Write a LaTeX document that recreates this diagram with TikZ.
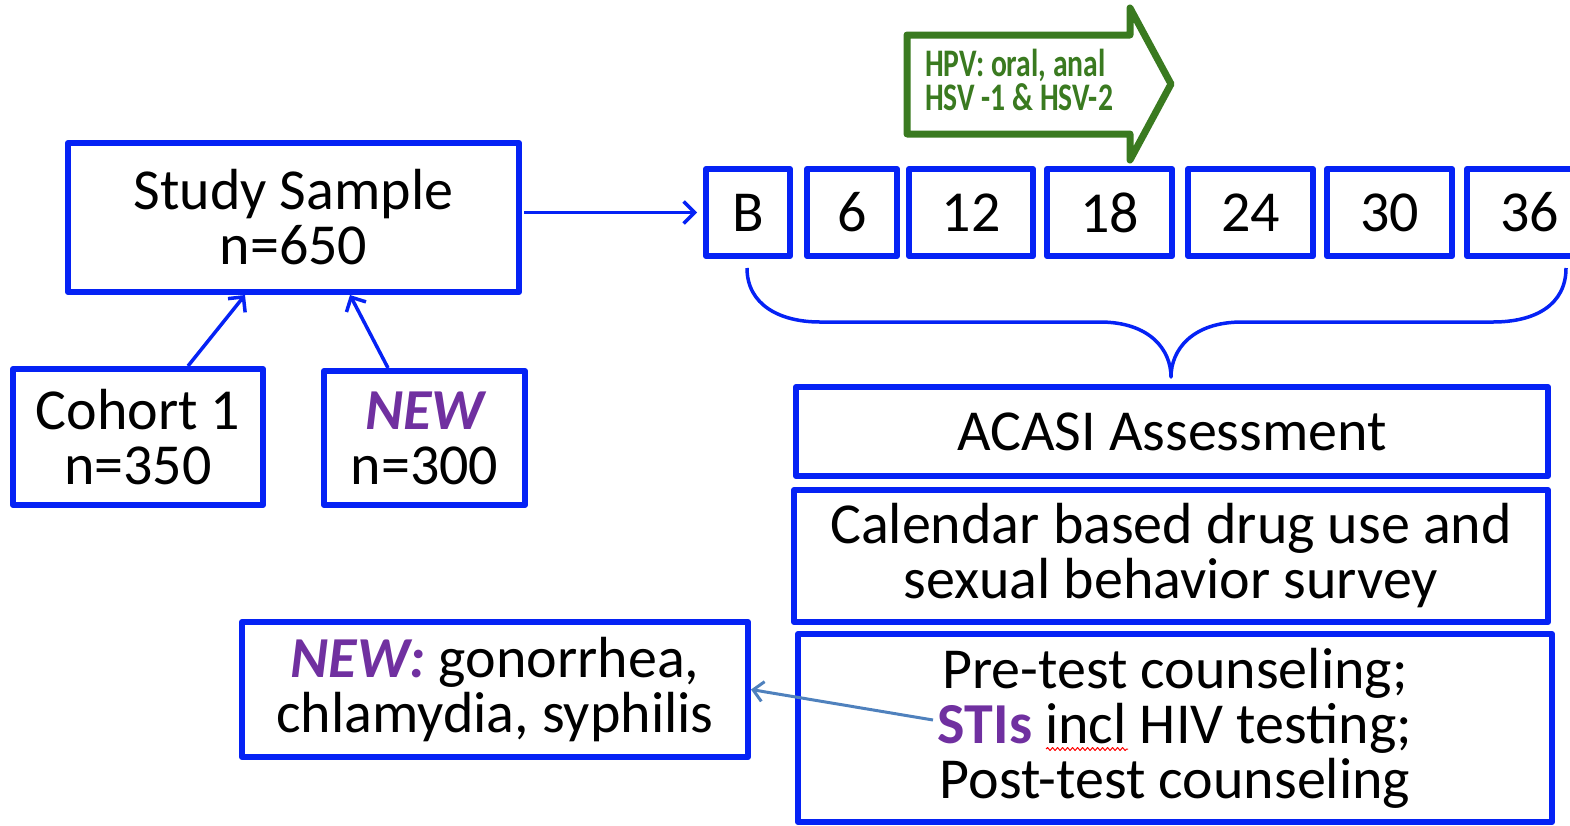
\documentclass[tikz,border=0pt]{standalone}
\usepackage{fontspec}
\setmainfont{Carlito}
\newfontfamily\hpvfont[FakeStretch=0.76]{Carlito}
\usetikzlibrary{arrows.meta, decorations.pathmorphing}
\definecolor{boxblue}{RGB}{5,34,245}
\definecolor{newpurple}{RGB}{112,48,160}
\definecolor{hpvgreen}{RGB}{58,122,32}
\definecolor{linkgray}{RGB}{79,129,189}
\newcommand{\boxfont}{\fontsize{58}{55}\selectfont}
\newcommand{\newtag}[1]{\textcolor{newpurple}{\bfseries\itshape #1}}

\begin{document}
\begin{tikzpicture}[x=1pt, y=-1pt, line join=round,
    box/.style={draw=boxblue, line width=6pt, inner sep=0pt, align=center, font=\boxfont},
    link/.style={draw=boxblue, line width=3.5pt, -{Straight Barb[length=11pt, width=22pt]}}]
  \useasboundingbox (0,0) rectangle (1570,825);
  \clip (0,0) rectangle (1570,825);

  \node[box, minimum width=451pt, minimum height=149pt] (study) at (293.5,217.5) {Study Sample\\n=650};
  \node[box, minimum width=250pt, minimum height=136pt] (cohort) at (138,437) {Cohort 1\\n=350};
  \node[box, minimum width=201pt, minimum height=134pt] (new) at (424.5,438) {\newtag{NEW}\\n=300};
  \draw[link] ([xshift=50pt]cohort.north) -- ([xshift=-48.5pt]study.south);
  \draw[link] ([xshift=-36.5pt]new.north) -- ([xshift=56.5pt]study.south);

  \foreach \lab/\cx/\w in {B/748/84pt, 6/852/90pt, 12/971/124pt, 18/1109.5/125pt,
      24/1250.5/125pt, 30/1389.5/125pt, 36/1529.5/125pt}
    \node[box, minimum width=\w, minimum height=87pt] (t\lab) at (\cx,212.5) {\lab};
  \draw[link, shorten <=2pt, shorten >=6pt] (study.east |- tB.west) -- (tB.west);

  \draw[hpvgreen, line width=7pt, fill=white] (907,35) -- (1130,35) -- (1130,8) -- (1171,84)
    -- (1130,160) -- (1130,134) -- (907,134) -- cycle;
  \node[anchor=west, inner sep=0pt, align=left, text=hpvgreen,
    font=\hpvfont\bfseries\fontsize{39}{34}\selectfont] (hpv) at (925,80) {HPV: oral, anal\\HSV -1 \& HSV-2};

  \draw[boxblue, line width=3.5pt] (747,268) .. controls (747,305) and (780,322) .. (820,322)
    -- (1100,322) .. controls (1150,322) and (1171,350) .. (1171,377)
    .. controls (1171,350) and (1192,322) .. (1242,322) -- (1493,322)
    .. controls (1535,322) and (1566,305) .. (1566,268);

  \node[box, minimum width=752pt, minimum height=89pt] (acasi) at (1172,431.5) {ACASI Assessment};
  \node[box, minimum width=754pt, minimum height=132pt] (calendar) at (1171,556) {Calendar based drug use and\\sexual behavior survey};
  \node[box, minimum width=754pt, minimum height=188pt] (testing) at (1175,728)
    {Pre-test counseling;\\\textcolor{newpurple}{\bfseries STIs} incl HIV testing;\\Post-test counseling};
  \node[box, minimum width=506pt, minimum height=135pt] (gono) at (495,689.5) {\newtag{NEW:} gonorrhea,\\chlamydia, syphilis};

  \coordinate (stis) at (933,720);
  \draw[linkgray, line width=3pt, -{Straight Barb[length=10pt, width=20pt]}] (stis) -- (gono.east);
  \draw[red, line width=1pt, decorate, decoration={snake, amplitude=1.5pt, segment length=5pt}] (1046,749) -- (1128,749);
\end{tikzpicture}
\end{document}
